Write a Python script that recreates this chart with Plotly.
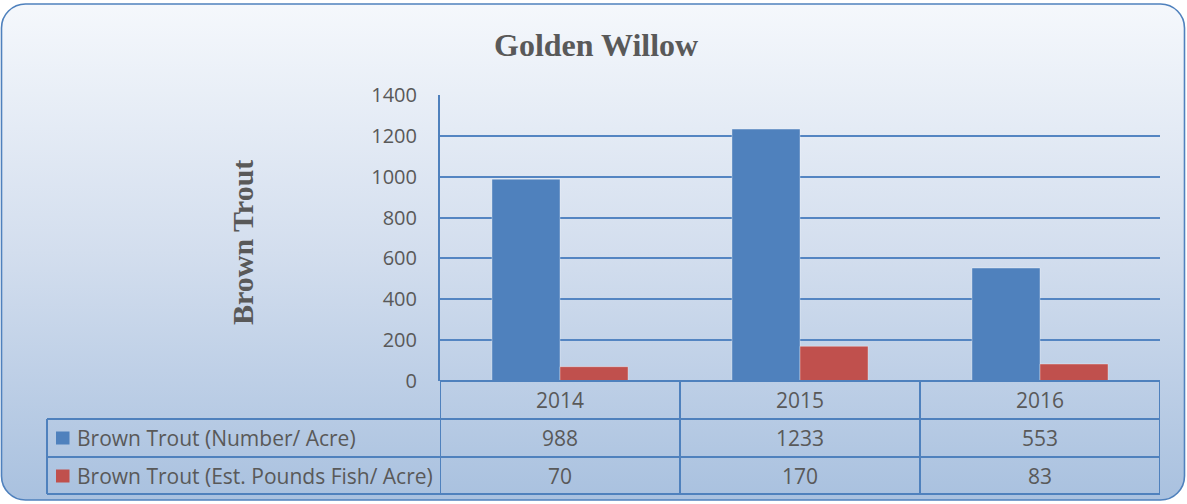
import base64
import plotly.graph_objects as go

# ---- data ----
categories = ["2014", "2015", "2016"]
series_names = ["Brown Trout (Number/ Acre)", "Brown Trout (Est. Pounds Fish/ Acre)"]
number_per_acre = [988, 1233, 553]
pounds_per_acre = [70, 170, 83]
series_values = [number_per_acre, pounds_per_acre]
series_colors = ["#4f81bd", "#c0504d"]
y_ticks = [0, 200, 400, 600, 800, 1000, 1200, 1400]

W, H = 1187, 504
TEXT = "#595959"
LINE = "#4f81bd"
FONT = "Open Sans"
FS = 20
FS_TABLE = 21


def px(x):
    return x / W


def py(y):
    return 1 - y / H


svg = f"""<svg xmlns='http://www.w3.org/2000/svg' width='{W}' height='{H}' viewBox='0 0 {W} {H}' preserveAspectRatio='none'>
<defs><linearGradient id='g' x1='0' y1='0' x2='0' y2='1'>
<stop offset='0' stop-color='#f5f8fc'/><stop offset='0.5' stop-color='#d3deee'/><stop offset='1' stop-color='#a9c1df'/>
</linearGradient></defs>
<rect x='1.5' y='4' width='1183' height='496' rx='24' ry='24' fill='url(#g)' stroke='#4f81bd' stroke-width='1.6'/>
</svg>"""
bg_uri = "data:image/svg+xml;base64," + base64.b64encode(svg.encode()).decode()

fig = go.Figure()
for name, vals, col in zip(series_names, series_values, series_colors):
    fig.add_trace(go.Bar(
        x=categories, y=vals, name=name,
        marker=dict(color=col, line=dict(color="rgba(255,255,255,0.35)", width=1)),
        showlegend=False,
    ))

x0, x1 = px(440), px(1160)
y_bot, y_top = py(381), py(95)

fig.update_layout(
    width=W, height=H,
    margin=dict(l=0, r=0, t=0, b=0, pad=0),
    paper_bgcolor="white",
    plot_bgcolor="rgba(0,0,0,0)",
    barmode="group",
    bargap=0.433,
    bargroupgap=0,
    xaxis=dict(type="category", domain=[x0, x1], range=[-0.5, 2.5], showticklabels=False,
               showgrid=False, zeroline=False, showline=False, fixedrange=True,
               automargin=False),
    yaxis=dict(domain=[y_bot, y_top], range=[0, 1400], tickvals=y_ticks,
               ticktext=[str(v) for v in y_ticks], automargin=False,
               showgrid=True, gridcolor="#5485c2", gridwidth=1.6,
               zeroline=False, showline=True, linecolor=LINE, linewidth=2,
               ticks="outside", ticklen=17, tickcolor="rgba(0,0,0,0)",
               tickfont=dict(family=FONT, size=FS, color=TEXT)),
    images=[dict(source=bg_uri, xref="paper", yref="paper", x=0, y=1,
                 sizex=1, sizey=1, sizing="stretch", layer="below",
                 xanchor="left", yanchor="top")],
)

shapes = []
annotations = []


def ann(text, x, y, xref="paper", size=FS_TABLE, family=FONT, xanchor="center", **kw):
    annotations.append(dict(text=text, xref=xref, yref="paper", x=x, y=y,
                            xanchor=xanchor, yanchor="middle", showarrow=False,
                            font=dict(family=family, size=size, color=TEXT), **kw))


# title and axis title
ann("<b>Golden Willow</b>", px(596), py(45), size=32, family="Liberation Serif")
ann("<b>Brown Trout</b>", px(242), py(243), size=30, family="Liberation Serif", textangle=-90)

lw = 2
# x axis line / table top
shapes.append(dict(type="line", xref="x", yref="paper", x0=-0.5, x1=2.5,
                   y0=py(381), y1=py(381), line=dict(color=LINE, width=lw)))
# table horizontal lines
for yy in [419, 457, 494]:
    shapes.append(dict(type="line", xref="paper", yref="paper", x0=px(47), x1=px(1160),
                       y0=py(yy), y1=py(yy), line=dict(color=LINE, width=lw)))
# table vertical lines at category boundaries
for b in [-0.5, 0.5, 1.5, 2.5]:
    shapes.append(dict(type="line", xref="x", yref="paper", x0=b, x1=b,
                       y0=py(381), y1=py(494), line=dict(color=LINE, width=lw)))
shapes.append(dict(type="line", xref="paper", yref="paper", x0=px(47), x1=px(47),
                   y0=py(419), y1=py(494), line=dict(color=LINE, width=lw)))

# header row: category labels
for i, c in enumerate(categories):
    ann(c, i, py(400), xref="x")

# data rows
row_centers = [438, 476]
for name, vals, col, rc in zip(series_names, series_values, series_colors, row_centers):
    shapes.append(dict(type="rect", xref="paper", yref="paper",
                       x0=px(56), x1=px(69.5), y0=py(rc - 6.5), y1=py(rc + 6.5),
                       fillcolor=col, line=dict(width=0)))
    ann(name, px(75), py(rc), xanchor="left")
    for i, v in enumerate(vals):
        ann(str(v), i, py(rc), xref="x")

fig.update_layout(shapes=shapes, annotations=annotations)
fig.write_html(
    "out.html",
    config={"displayModeBar": False},
    post_script="document.body.style.margin='0';document.body.style.overflow='hidden';",
)
